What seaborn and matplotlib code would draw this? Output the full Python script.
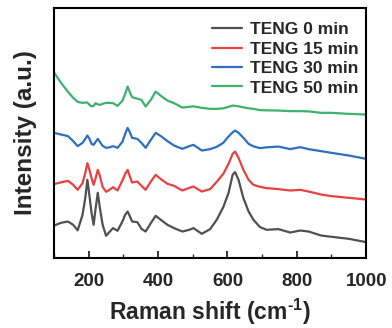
import matplotlib
matplotlib.use("Agg")
import matplotlib.pyplot as plt
import seaborn as sns
import pandas as pd
from matplotlib.ticker import MultipleLocator

sns.set_theme(style="white")
plt.rcParams['font.family'] = ['Liberation Sans', 'DejaVu Sans']
plt.rcParams['font.weight'] = 'bold'
plt.rcParams['mathtext.fontset'] = 'custom'
plt.rcParams['mathtext.rm'] = 'Liberation Sans:bold'
plt.rcParams['mathtext.bf'] = 'Liberation Sans:bold'
plt.rcParams['mathtext.it'] = 'Liberation Sans:bold'

wavenumber = [100, 120, 140, 155, 168, 182, 190, 196, 202, 208,
              214, 220, 226, 232, 240, 250, 260, 270, 283, 297,
              305, 312, 318, 325, 340, 352, 364, 379, 393, 408,
              427, 446, 470, 490, 502, 526, 550, 569, 588, 603,
              615, 622, 632, 646, 661, 675, 694, 713, 747, 781,
              810, 834, 870, 900, 950, 1000]

teng_0 = [32.3, 35, 36.3, 33, 27.5, 43, 60, 78, 62, 45,
          33, 50, 65, 50, 33, 22, 26, 29.7, 27, 36.3,
          43, 46.3, 42, 36.3, 35.7, 29, 26.3, 34.7, 42, 38,
          33, 29.7, 26.3, 28, 29.7, 24, 28.7, 38, 50.7, 64.7,
          83, 85.7, 78, 59.7, 46.3, 38, 30.7, 28, 28.7, 25.3,
          27.3, 26.3, 22.3, 21, 19, 15.7]

teng_15 = [73.7, 75.5, 77, 73, 68, 74.7, 85, 94.7, 88, 79.7,
           73, 80, 88, 82, 71, 66, 68, 70.7, 67.3, 77.3,
           84, 88, 82, 75.3, 76.3, 72, 68, 76.3, 83, 78.7,
           74, 72, 67.3, 70, 71.3, 66.3, 68.7, 76, 84, 94,
           104, 106.3, 100, 88, 78, 73, 71, 69.7, 68.7, 67.3,
           68, 66.3, 63.3, 61.7, 60, 58.3]

teng_30 = [125, 123.3, 121.7, 116.7, 111.7, 115, 119, 122.3, 119, 114,
           113, 116, 119, 116, 112, 110, 110.5, 111.7, 110, 116,
           124, 130, 126, 120, 119, 115, 110, 118, 125, 121.7,
           116.7, 112.3, 109, 111.7, 113, 107.3, 108.7, 111, 115, 121.3,
           125.5, 127.3, 125, 120, 114, 111.5, 109.7, 110.5, 111.3, 108.7,
           110.7, 108.7, 106.7, 105, 102.3, 99]

teng_50 = [185.3, 175, 166, 160, 156, 155, 155.3, 155.3, 153, 151.5,
           152, 154.7, 153.5, 153, 154, 155, 155, 154.7, 152, 157,
           164, 171.3, 166, 160.7, 159.2, 158, 151.3, 158, 166.3, 162,
           157.3, 154.7, 150.3, 151, 151.5, 150, 149, 149, 149.5, 151,
           152.3, 152, 151.5, 150.5, 149.5, 149, 147.7, 147.5, 147.3, 146.7,
           146.7, 146.5, 145, 145, 144, 143.3]

labels = ["TENG 0 min", "TENG 15 min", "TENG 30 min", "TENG 50 min"]
colors = ["#505050", "#e8413f", "#2f6ec0", "#3bb36c"]

frames = []
for lab, vals in zip(labels, [teng_0, teng_15, teng_30, teng_50]):
    frames.append(pd.DataFrame({"x": wavenumber, "y": vals, "sample": lab}))
df = pd.concat(frames, ignore_index=True)

fig = plt.figure(figsize=(3.92, 3.28), dpi=100)
ax = fig.add_axes([0.138, 0.214, 0.796, 0.762])
sns.lineplot(data=df, x="x", y="y", hue="sample", palette=colors, linewidth=1.6,
             ax=ax, estimator=None, sort=False)

ax.set_xlim(100, 1000)
ax.set_ylim(0, 250)
ax.set_yticks([])
ax.xaxis.set_major_locator(MultipleLocator(200))
ax.xaxis.set_minor_locator(MultipleLocator(100))
ax.tick_params(axis='x', which='major', direction='in', length=5, width=1.3,
               labelsize=13.5, pad=11, bottom=True)
ax.tick_params(axis='x', which='minor', direction='in', length=3, width=1.0, bottom=True)
for lab in ax.get_xticklabels():
    lab.set_fontweight('bold')
for s in ax.spines.values():
    s.set_linewidth(1.5)
    s.set_color('black')

ax.set_xlabel(r"Raman shift (cm$^{\text{-1}}$)", fontsize=16.5, fontweight='bold', labelpad=5)
ax.set_ylabel("Intensity (a.u.)", fontsize=17.5, fontweight='bold', labelpad=12)

leg = ax.legend(loc='upper right', bbox_to_anchor=(1.0, 0.975), frameon=False, fontsize=12.5,
                handlelength=1.7, labelspacing=0.25, borderaxespad=0.05, handletextpad=0.45)
for t in leg.get_texts():
    t.set_fontweight('bold')

fig.savefig("out.png", dpi=100)
